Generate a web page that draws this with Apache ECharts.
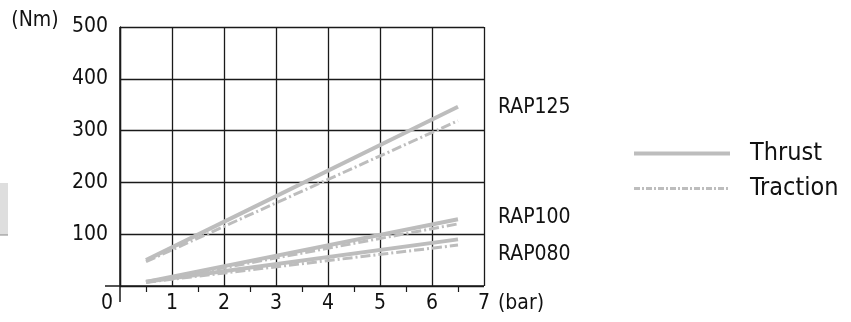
<!DOCTYPE html>
<html><head><meta charset="utf-8">
<script src="https://cdn.jsdelivr.net/npm/echarts@6/dist/echarts.min.js"></script>
<style>html,body{margin:0;padding:0;background:#fff}#c{width:851px;height:322px}</style>
</head><body><div id="c"></div>
<script>
const FONT = "'DejaVu Sans', sans-serif";
const FW = 'normal semi-condensed';
const pressure = [0.5, 6.5];
const models = ['RAP125', 'RAP100', 'RAP080'];
const thrust = {RAP125: [50, 346], RAP100: [8, 129], RAP080: [8, 90]};
const traction = {RAP125: [47, 319], RAP100: [7, 120], RAP080: [7, 79]};
const labelOffsets = {RAP125: [0, 1], RAP100: [0, -2], RAP080: [0, 15]};
const xTicks = [0, 1, 2, 3, 4, 5, 6, 7];
const yTicks = [0, 100, 200, 300, 400, 500];
const yUnit = '(Nm)';
const xUnit = '(bar)';

const GREY = '#bdbdbd';
const series = [];
models.forEach(m => {
  series.push({
    name: 'Thrust', type: 'line', symbol: 'none', silent: true,
    data: pressure.map((x, i) => [x, thrust[m][i]]),
    lineStyle: {color: GREY, width: 4, type: 'solid'},
    itemStyle: {color: GREY},
    endLabel: {show: true, formatter: m, color: '#111', fontFamily: FONT, fontWeight: FW, fontSize: 21,
      distance: 40, offset: labelOffsets[m]}
  });
  series.push({
    name: 'Traction', type: 'line', symbol: 'none', silent: true,
    data: pressure.map((x, i) => [x, traction[m][i]]),
    lineStyle: {color: GREY, width: 3, type: [10, 3, 2, 3]},
    itemStyle: {color: GREY}
  });
});

const chart = echarts.init(document.getElementById('c'), null, {renderer: 'canvas'});
const AX = '#1a1a1a';
chart.setOption({
  animation: false,
  grid: {left: 120, right: 367, top: 27, bottom: 36},
  textStyle: {fontFamily: FONT},
  legend: {
    orient: 'vertical', left: 627, top: 136, itemGap: 10,
    itemWidth: 96, itemHeight: 24,
    data: [
      {name: 'Thrust', lineStyle: {width: 4, color: GREY, type: 'solid'}},
      {name: 'Traction', lineStyle: {width: 3, color: GREY, type: [6, 2, 2, 2]}}
    ],
    itemStyle: {opacity: 0},
    textStyle: {fontFamily: FONT, fontWeight: FW, fontSize: 25, color: '#111', padding: [0, 0, 0, 15]},
    selectedMode: false
  },
  xAxis: {
    type: 'value', min: xTicks[0], max: xTicks[xTicks.length - 1], interval: 1,
    axisLine: {show: false},
    axisTick: {show: false},
    minorTick: {show: true, splitNumber: 2, length: 6, lineStyle: {color: AX, width: 1.2}},
    splitLine: {show: true, lineStyle: {color: AX, width: 1.3}},
    axisLabel: {showMinLabel: false, color: '#111', fontFamily: FONT, fontWeight: FW, fontSize: 21, margin: 7,
      formatter: v => xTicks.includes(v) ? String(v) : ''}
  },
  yAxis: {
    type: 'value', min: yTicks[0], max: yTicks[yTicks.length - 1], interval: 100,
    axisLine: {show: true, lineStyle: {color: AX, width: 1.3}},
    axisTick: {show: false},
    splitLine: {show: true, lineStyle: {color: AX, width: 1.3}},
    axisLabel: {showMinLabel: false, color: '#111', fontFamily: FONT, fontWeight: FW, fontSize: 21, margin: 12}
  },
  series: series
});

const o = chart.convertToPixel({gridIndex: 0}, [0, 0]);
const e = chart.convertToPixel({gridIndex: 0}, [7, 500]);
const T = {fontFamily: FONT, fontWeight: FW, fontSize: 21, fill: '#111', align: 'center', verticalAlign: 'middle'};
chart.setOption({
  graphic: [
    {type: 'line', shape: {x1: o[0] - 15, y1: o[1], x2: e[0], y2: o[1]}, style: {stroke: AX, lineWidth: 1.5}},
    {type: 'line', shape: {x1: o[0], y1: e[1], x2: o[0], y2: o[1] + 16}, style: {stroke: AX, lineWidth: 1.5}},
    {type: 'text', x: o[0] - 13, y: o[1] + 18, style: Object.assign({text: String(xTicks[0])}, T)},
    {type: 'text', x: e[0] + 37, y: o[1] + 18, style: Object.assign({text: xUnit}, T)},
    {type: 'text', x: 35, y: e[1] - 6, style: Object.assign({text: yUnit}, T)},
    {type: 'rect', shape: {x: 0, y: 183, width: 8, height: 52}, style: {fill: '#dedede'}},
    {type: 'line', shape: {x1: 0, y1: 235, x2: 8, y2: 235}, style: {stroke: '#8a8a8a', lineWidth: 1}}
  ]
});
</script></body></html>
